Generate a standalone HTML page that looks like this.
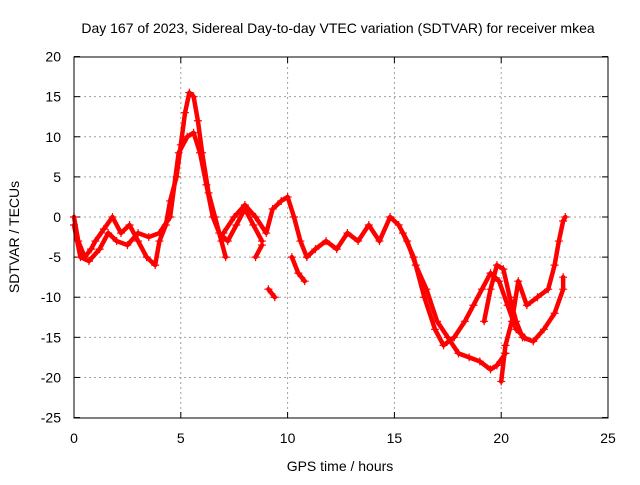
<!DOCTYPE html>
<html><head><meta charset="utf-8"><style>
body{margin:0;background:#fff;font-family:"Liberation Sans",sans-serif}
svg text{font-family:"Liberation Sans",sans-serif;font-size:14px;fill:#000}
</style></head><body>
<svg id="c" width="640" height="480">
<rect x="0" y="0" width="640" height="480" fill="#fff"/>
<text x="338" y="33" text-anchor="middle">Day 167 of 2023, Sidereal Day-to-day VTEC variation (SDTVAR) for receiver mkea</text>
<text x="340" y="471" text-anchor="middle">GPS time / hours</text>
<text transform="translate(19,237) rotate(-90)" text-anchor="middle">SDTVAR / TECUs</text>
<g id="grid"></g><g id="ticks"></g><g id="marks"></g>
<rect x="74" y="57" width="534" height="361" fill="none" stroke="#000"/>
</svg>
<script>
const xTicks=[0,5,10,15,20,25];
const yTicks=[20,15,10,5,0,-5,-10,-15,-20,-25];
const trackA=[[0,0],[0.2,-3],[0.5,-5],[0.8,-4],[1,-3],[1.4,-1.5],[1.8,0],[2.2,-2],[2.6,-1],[3,-3],[3.4,-5],[3.8,-6],[4,-3],[4.3,-1],[4.5,2],[4.8,5],[5,9],[5.2,13],[5.4,15.5],[5.6,15],[5.8,12],[6,8],[6.3,3],[6.6,0],[6.9,-3],[7.1,-5]];
const trackB=[[0,-1],[0.3,-5],[0.7,-5.5],[1.2,-4],[1.6,-2],[2,-3],[2.5,-3.5],[3,-2],[3.5,-2.5],[4,-2],[4.5,0],[4.9,8],[5.3,10],[5.6,10.5],[5.9,8],[6.2,4],[6.5,0],[6.8,-2],[7.2,-3],[7.6,-1],[8,1],[8.4,-1],[8.8,-3]];
const trackC=[[7,-2],[7.5,0],[8,1.5],[8.5,0],[9,-2],[9.3,1],[9.7,2],[10,2.5],[10.3,0],[10.6,-3],[10.9,-5],[11.3,-4],[11.8,-3],[12.3,-4],[12.8,-2],[13.3,-3],[13.8,-1],[14.3,-3],[14.8,0],[15.2,-1],[15.6,-3],[16,-6],[16.5,-9],[17,-13],[17.5,-15],[18,-17],[18.5,-17.5],[19,-18],[19.5,-19],[19.8,-18.5],[20.2,-17]];
const trackD=[[15.4,-2],[15.9,-5],[16.4,-10],[16.9,-14],[17.3,-16],[17.8,-15],[18.3,-13],[18.7,-11],[19.1,-9],[19.5,-7],[19.9,-8],[20.3,-11],[20.7,-14],[21.1,-15]];
const trackE=[[19.2,-13],[19.5,-9],[19.8,-6],[20.1,-6.5],[20.4,-10],[20.7,-13],[21,-15],[21.5,-15.5],[22,-14],[22.5,-12],[22.9,-9],[22.9,-7.5]];
const trackF=[[20,-20.5],[20.2,-16],[20.5,-13],[20.8,-8],[21.2,-11],[21.7,-10],[22.2,-9],[22.5,-6],[22.7,-3],[22.9,-0.5],[23,0]];
const trackG1=[[8.5,-5],[8.8,-3.5]];
const trackG2=[[9.1,-9],[9.4,-10]];
const trackG3=[[10.2,-5],[10.5,-7],[10.8,-8]];
const tracks=[trackA,trackB,trackC,trackD,trackE,trackF,trackG1,trackG2,trackG3];
const X=v=>74+v*534/25, Y=v=>217-v*361/45;
const NS='http://www.w3.org/2000/svg';
function mk(t,a,p){const e=document.createElementNS(NS,t);for(const k in a)e.setAttribute(k,a[k]);p.appendChild(e);return e;}
const grid=document.getElementById('grid'),ticks=document.getElementById('ticks'),marks=document.getElementById('marks');
xTicks.forEach(v=>{
 if(v>0&&v<25){const g=mk('line',{x1:X(v),x2:X(v),y1:57,y2:418,stroke:'#a0a0a0','stroke-dasharray':'2,3'},grid);
 
 }
 const t=mk('text',{x:X(v),y:443,'text-anchor':'middle'},ticks);t.textContent=v;
 
 
 mk('line',{x1:X(v),x2:X(v),y1:418,y2:412,stroke:'#000'},ticks);
 mk('line',{x1:X(v),x2:X(v),y1:57,y2:63,stroke:'#000'},ticks);
});
yTicks.forEach(v=>{
 if(v<20&&v>-25){const g=mk('line',{x1:74,x2:608,y1:Y(v),y2:Y(v),stroke:'#a0a0a0','stroke-dasharray':'2,3'},grid);
 
 }
 const t=mk('text',{x:61,y:Y(v)+5,'text-anchor':'end'},ticks);t.textContent=v;
 
 
 mk('line',{x1:74,x2:80,y1:Y(v),y2:Y(v),stroke:'#000'},ticks);
 mk('line',{x1:608,x2:602,y1:Y(v),y2:Y(v),stroke:'#000'},ticks);
});
tracks.forEach((tr,i)=>{
 const pl=mk('polyline',{points:tr.map(p=>X(p[0])+','+Y(p[1])).join(' '),fill:'none',stroke:'#f00','stroke-width':4.5,'stroke-linejoin':'round','stroke-linecap':'round'},marks);
 
 
 tr.forEach(p=>{
  const x=X(p[0]),y=Y(p[1]);
  const m=mk('path',{d:`M${x-4},${y}h8M${x},${y-4}v8`,stroke:'#f00','stroke-width':1.2},marks);
  
  
 });
});
</script>
</body></html>
